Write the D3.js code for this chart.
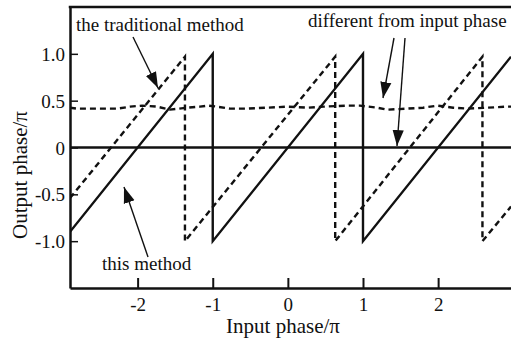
<!DOCTYPE html>
<html>
<head>
<meta charset="utf-8">
<script src="https://cdn.jsdelivr.net/npm/d3@7"></script>
<style>
  body { margin: 0; background: #fff; }
  svg { display: block; font-family: "Liberation Serif", "DejaVu Serif", serif; }
  .axis text { font-size: 19px; fill: #111; }
  .axis path, .axis line { stroke: #111; }
</style>
</head>
<body>
<svg id="chart" width="511" height="341"></svg>
<script>
// tick values
let x_ticks = [-2, -1, 0, 1, 2]
let y_ticks = [-1, -0.5, 0, 0.5, 1]
let y_tick_labels = ["-1.0", "-0.5", "0", "0.5", "1.0"]

// this method (solid sawtooth), [input, output]
let this_method = [[-2.9, -0.9], [-1, 1], [-1, -1], [1, 1], [1, -1], [2.97, 0.97]]

// the traditional method (dashed sawtooth)
let traditional = [[-2.9, -0.54], [-1.37, 0.97], [-1.37, -1], [0.63, 0.97], [0.63, -1], [2.59, 0.97], [2.59, -1], [2.97, -0.63]]

// phase difference (dashed, wavy, near 0.43)
let diff_x = [-2.9, -2.81, -2.27, -2.1, -1.94, -1.74, -1.57, -1.34, -1.17, -1.06, -0.94, -0.77, -0.54, -0.28, -0.01, 0.26, 0.47, 0.79, 0.96, 1.19, 1.32, 1.59, 1.8, 1.99, 2.2, 2.39, 2.65, 2.92, 2.97]
let diff_y = [0.425, 0.415, 0.415, 0.436, 0.447, 0.436, 0.404, 0.425, 0.436, 0.447, 0.436, 0.415, 0.415, 0.425, 0.436, 0.425, 0.436, 0.447, 0.447, 0.425, 0.404, 0.415, 0.425, 0.447, 0.425, 0.415, 0.425, 0.436, 0.436]

let svg = d3.select('#chart')
let m_left = 70, m_right = 511, m_top = 7, m_bottom = 288

let x = d3.scaleLinear().domain([-2.9, 2.97]).range([m_left, m_right])
let y = d3.scaleLinear().domain([-1.5, 1.5]).range([m_bottom, m_top])

let defs = svg.append('defs')
defs.append('clipPath').attr('id', 'plot')
    .append('rect').attr('x', m_left).attr('y', m_top).attr('width', m_right - m_left).attr('height', m_bottom - m_top)

defs.append('marker').attr('id', 'head')
    .attr('viewBox', '0 0 10 10').attr('refX', 10).attr('refY', 5)
    .attr('markerWidth', 16).attr('markerHeight', 16).attr('markerUnits', 'userSpaceOnUse')
    .attr('orient', 'auto')
    .append('path').attr('d', 'M0,1.5 L10,5 L0,8.5 Z').attr('fill', '#111')

let line = d3.line().x(d => x(d[0])).y(d => y(d[1]))
let plot = svg.append('g').attr('clip-path', 'url(#plot)')

// zero line
plot.append('line')
    .attr('x1', m_left).attr('x2', m_right)
    .attr('y1', y(0)).attr('y2', y(0))
    .attr('stroke', '#111').attr('stroke-width', 2.4)

plot.append('path').datum(diff_x.map((v, i) => [v, diff_y[i]]))
    .attr('d', line).attr('fill', 'none')
    .attr('stroke', '#111').attr('stroke-width', 2.4).attr('stroke-dasharray', '6,4')

plot.append('path').datum(traditional)
    .attr('d', line).attr('fill', 'none')
    .attr('stroke', '#111').attr('stroke-width', 2.4).attr('stroke-dasharray', '6,4')

plot.append('path').datum(this_method)
    .attr('d', line).attr('fill', 'none')
    .attr('stroke', '#111').attr('stroke-width', 2.4)

// axes + frame
let x_axis = svg.append('g').attr('class', 'axis').attr('transform', `translate(0,${m_bottom})`)
    .call(d3.axisBottom(x).tickValues(x_ticks).tickFormat(d => String(d)).tickSize(-10).tickSizeOuter(0).tickPadding(10))
    .attr('font-family', null).attr('font-size', null)
x_axis.select('.domain').attr('stroke-width', 2.5)
x_axis.selectAll('.tick line').attr('stroke-width', 2)

let y_axis = svg.append('g').attr('class', 'axis').attr('transform', `translate(${m_left},0)`)
    .call(d3.axisLeft(y).tickValues(y_ticks).tickFormat((d, i) => y_tick_labels[i]).tickSize(-8).tickSizeOuter(0).tickPadding(5))
    .attr('font-family', null).attr('font-size', null)
y_axis.select('.domain').attr('stroke-width', 2.5)
y_axis.selectAll('.tick line').attr('stroke-width', 1.5)
y_axis.selectAll('.tick text').attr('dy', '0.35em')

svg.append('line').attr('x1', m_left - 1.25).attr('x2', m_right).attr('y1', m_top).attr('y2', m_top)
    .attr('stroke', '#111').attr('stroke-width', 2.5)

// axis titles
svg.append('text').attr('x', 283).attr('y', 333).attr('text-anchor', 'middle')
    .attr('font-size', 21).attr('fill', '#111').text('Input phase/π')
svg.append('text').attr('transform', 'translate(27,175) rotate(-90)').attr('text-anchor', 'middle')
    .attr('font-size', 21).attr('fill', '#111').text('Output phase/π')

// annotations
let notes = [
    { text: 'the traditional method', x: 76, y: 31 },
    { text: 'different from input phase', x: 308, y: 27 },
    { text: 'this method', x: 102, y: 270 }
]
svg.selectAll('.note').data(notes).join('text').attr('class', 'note')
    .attr('x', d => d.x).attr('y', d => d.y).attr('font-size', 19).attr('fill', '#111')
    .text(d => d.text)

let arrows = [
    [133, 37, 158, 88],
    [148, 257, 124, 187],
    [394, 38, 383, 98],
    [405, 38, 397, 146]
]
svg.selectAll('.arrow').data(arrows).join('line').attr('class', 'arrow')
    .attr('x1', d => d[0]).attr('y1', d => d[1]).attr('x2', d => d[2]).attr('y2', d => d[3])
    .attr('stroke', '#111').attr('stroke-width', 1.4).attr('marker-end', 'url(#head)')
</script>
</body>
</html>
